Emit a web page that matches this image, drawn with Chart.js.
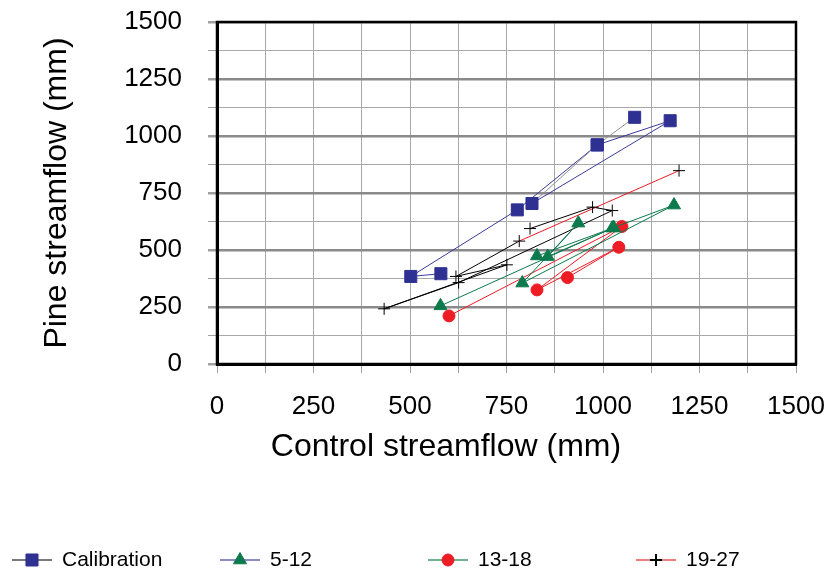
<!DOCTYPE html>
<html>
<head>
<meta charset="utf-8">
<script src="https://cdn.jsdelivr.net/npm/chart.js@4.4.1/dist/chart.umd.min.js"></script>
<style>
  body { margin: 0; background: #fff; }
</style>
</head>
<body>
<canvas id="myChart" width="829" height="574"></canvas>
<script>
const seriesNames = ['Calibration', '5-12', '13-18', '19-27'];

// points in the order the lines join them
const calibX = [580, 502, 778, 985, 1174, 816, 985, 1082];
const calibY = [396, 384, 676, 961, 1067, 704, 961, 1082];

const p512X = [579, 1024, 1184, 791, 936, 857, 1028, 829];
const p512Y = [255, 596, 697, 355, 618, 471, 598, 474];

const p1318X = [601, 1049, 829, 1041, 908];
const p1318Y = [211, 603, 325, 512, 379];

const p1927X = [811, 973, 1024, 626, 433, 751, 619, 783, 1197];
const p1927Y = [594, 688, 673, 357, 242, 435, 384, 539, 848];

const axisTicks = [0, 250, 500, 750, 1000, 1250, 1500];

const FONT = "'Liberation Sans', Arial, sans-serif";
const legendLines = ['#7a7a7a', '#8c8cc8', '#6fb394', '#f08080'];

function toPts(xs, ys) {
  return xs.map((x, i) => ({x: x, y: ys[i]}));
}

const framePlugin = {
  id: 'frame',
  beforeDatasetsDraw(chart) {
    const {ctx, chartArea: a} = chart;
    ctx.save();
    ctx.strokeStyle = '#000';
    ctx.lineWidth = 2.5;
    ctx.strokeRect(a.left, a.top, a.right - a.left, a.bottom - a.top);
    ctx.restore();
  }
};

const extrasPlugin = {
  id: 'extras',
  afterDraw(chart) {
    const ctx = chart.ctx;
    ctx.save();
    // x axis title
    ctx.fillStyle = '#000';
    ctx.font = '32px ' + FONT;
    ctx.textAlign = 'center';
    ctx.textBaseline = 'middle';
    ctx.fillText('Control streamflow (mm)', 446, 447);
    // legend
    const y = 560;
    chart.data.datasets.forEach((ds, i) => {
      const x0 = 12 + i * 208;
      ctx.strokeStyle = legendLines[i];
      ctx.lineWidth = 2;
      ctx.beginPath();
      ctx.moveTo(x0, y);
      ctx.lineTo(x0 + 40, y);
      ctx.stroke();
      ctx.fillStyle = ds.pointBackgroundColor;
      ctx.strokeStyle = ds.pointBorderColor;
      ctx.lineWidth = ds.pointStyle === 'cross' ? 2 : 1;
      Chart.helpers.drawPoint(ctx, {pointStyle: ds.pointStyle, radius: ds.pointRadius, borderWidth: 1, rotation: 0}, x0 + 20, y);
      ctx.fillStyle = '#000';
      ctx.font = '21px ' + FONT;
      ctx.textAlign = 'left';
      ctx.textBaseline = 'middle';
      ctx.fillText(ds.label, x0 + 50, y);
    });
    ctx.restore();
  }
};

function gridWidth(ctx) {
  return ctx.tick && ctx.tick.value % 250 === 0 ? 2.5 : 1;
}
function gridColor(ctx) {
  return ctx.tick && ctx.tick.value % 250 === 0 ? '#8a8a8a' : '#a8a8a8';
}

new Chart(document.getElementById('myChart').getContext('2d'), {
  type: 'scatter',
  data: {
    datasets: [{
      label: seriesNames[0],
      data: toPts(calibX, calibY),
      showLine: true, borderWidth: 1,
      borderColor: '#3b3b9c',
      segment: {borderColor: ctx => ctx.p0DataIndex >= 5 ? '#909090' : '#3b3b9c'},
      pointStyle: 'rect', pointRadius: 8.5,
      pointBackgroundColor: '#2e3192', pointBorderColor: '#2e3192'
    }, {
      label: seriesNames[1],
      data: toPts(p512X, p512Y),
      showLine: true, borderWidth: 1,
      borderColor: '#0c7a4c',
      pointStyle: 'triangle', pointRadius: 7.5,
      pointBackgroundColor: '#0c7a4c', pointBorderColor: '#0c7a4c'
    }, {
      label: seriesNames[2],
      data: toPts(p1318X, p1318Y),
      showLine: true, borderWidth: 1,
      borderColor: '#ee1c25',
      pointStyle: 'circle', pointRadius: 6,
      pointBackgroundColor: '#ee1c25', pointBorderColor: '#ee1c25'
    }, {
      label: seriesNames[3],
      data: toPts(p1927X, p1927Y),
      showLine: true, borderWidth: 1,
      borderColor: '#000',
      segment: {borderColor: ctx => ctx.p0DataIndex >= 7 ? '#ee1c25' : '#000'},
      pointStyle: 'cross', pointRadius: 6, pointBorderWidth: 1,
      pointBackgroundColor: '#000', pointBorderColor: '#000'
    }]
  },
  options: {
    responsive: false,
    animation: false,
    layout: {padding: {top: 22, right: 33, left: 0, bottom: 150}},
    plugins: {legend: {display: false}, tooltip: {enabled: false}},
    scales: {
      x: {
        type: 'linear', min: 0, max: 1500,
        afterFit: s => { s.height = 60; s.paddingLeft = 0; s.paddingRight = 0; },
        ticks: {
          stepSize: 125, autoSkip: false, maxRotation: 0, padding: 18,
          color: '#000', font: {family: FONT, size: 26},
          callback: v => axisTicks.includes(v) ? v : ''
        },
        grid: {color: '#a8a8a8', lineWidth: 1, tickLength: 9, tickColor: '#a0a0a0'},
        border: {color: '#000', width: 3}
      },
      y: {
        type: 'linear', min: 0, max: 1500,
        afterFit: s => { s.width = 217; s.paddingTop = 0; s.paddingBottom = 0; },
        ticks: {
          stepSize: 125, autoSkip: false, padding: 26,
          color: '#000', font: {family: FONT, size: 26},
          callback: v => axisTicks.includes(v) ? v : ''
        },
        grid: {color: gridColor, lineWidth: gridWidth, tickLength: 9, tickColor: '#a0a0a0'},
        border: {color: '#000', width: 3},
        title: {
          display: true, text: 'Pine streamflow (mm)', color: '#000',
          font: {family: FONT, size: 32}, padding: {top: 38, bottom: 0}
        }
      }
    }
  },
  plugins: [framePlugin, extrasPlugin]
});
</script>
</body>
</html>
